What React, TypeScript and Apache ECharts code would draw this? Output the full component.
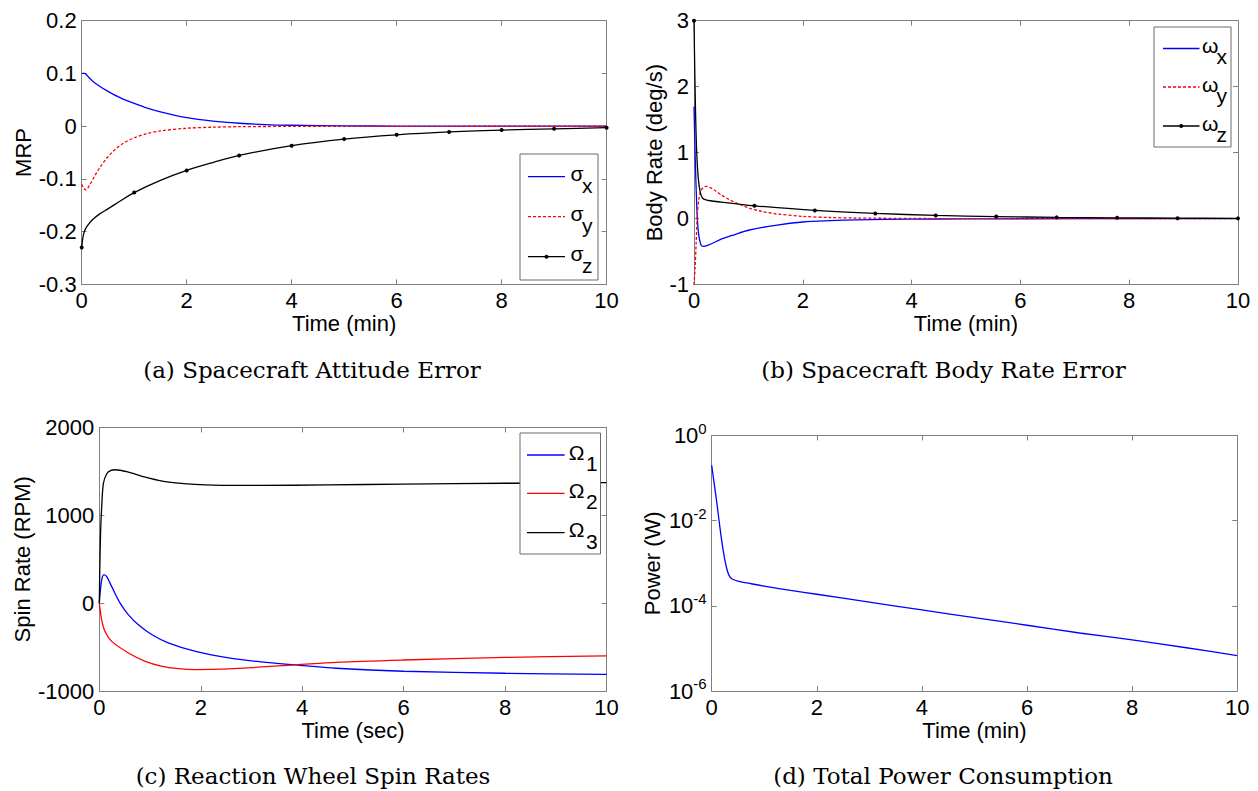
import React, { useEffect, useRef } from "react";
import * as echarts from "echarts";

// ---------- (a) Spacecraft Attitude Error : MRP vs time (min)
const sigmaXTime = [0, 0.05, 0.15, 0.25, 0.5, 0.75, 1, 1.25, 1.5, 2, 2.5, 3, 3.5, 4, 5, 6, 8, 10];
const sigmaX = [0.1, 0.1, 0.091, 0.082, 0.066, 0.053, 0.043, 0.034, 0.027, 0.016, 0.0095, 0.0055, 0.003, 0.0017, 0.0005, 0.0002, 0, 0];
const sigmaYTime = [0, 0.04, 0.08, 0.15, 0.25, 0.35, 0.5, 0.65, 0.8, 1, 1.25, 1.5, 2, 2.5, 3, 4, 6, 10];
const sigmaY = [-0.11, -0.118, -0.121, -0.112, -0.094, -0.078, -0.058, -0.043, -0.032, -0.022, -0.014, -0.009, -0.004, -0.002, -0.001, -0.0005, -0.0003, -0.0002];
const sigmaZTime = [0, 0.02, 0.05, 0.1, 0.2, 0.35, 0.5, 0.75, 1, 1.5, 2, 2.5, 3, 4, 5, 6, 7, 8, 9, 10];
const sigmaZ = [-0.23, -0.213, -0.2, -0.19, -0.178, -0.166, -0.157, -0.141, -0.126, -0.103, -0.084, -0.069, -0.0555, -0.037, -0.0245, -0.0165, -0.011, -0.0075, -0.005, -0.003];
const sigmaZMarkers = [0, 1, 2, 3, 4, 5, 6, 7, 8, 9, 10];

// ---------- (b) Spacecraft Body Rate Error : deg/s vs time (min)
const omegaXTime = [0, 0.02, 0.05, 0.08, 0.12, 0.16, 0.25, 0.5, 0.75, 1, 1.5, 2, 2.5, 3, 4, 5, 6, 8, 10];
const omegaX = [1.7, 1.0, 0.2, -0.2, -0.38, -0.42, -0.405, -0.31, -0.24, -0.175, -0.1, -0.05, -0.03, -0.018, -0.007, -0.003, -0.001, 0, 0];
const omegaYTime = [0, 0.02, 0.04, 0.06, 0.09, 0.13, 0.18, 0.23, 0.3, 0.4, 0.5, 0.65, 0.8, 1, 1.25, 1.5, 2, 2.5, 3, 4, 5, 10];
const omegaY = [-1.0, -0.75, -0.35, 0.05, 0.3, 0.43, 0.48, 0.49, 0.47, 0.42, 0.36, 0.29, 0.23, 0.165, 0.11, 0.075, 0.035, 0.018, 0.01, 0.004, 0.001, 0];
const omegaZTime = [0, 0.015, 0.03, 0.05, 0.08, 0.12, 0.16, 0.22, 0.3, 0.5, 0.75, 1.111, 2.222, 3.333, 4.444, 5.556, 6.667, 7.778, 8.889, 10];
const omegaZ = [3.0, 2.2, 1.55, 1.0, 0.6, 0.38, 0.31, 0.285, 0.272, 0.252, 0.228, 0.195, 0.125, 0.08, 0.05, 0.032, 0.02, 0.013, 0.008, 0.005];
const omegaZMarkers = [0, 1.111, 2.222, 3.333, 4.444, 5.556, 6.667, 7.778, 8.889, 10];

// ---------- (c) Reaction Wheel Spin Rates : RPM vs time (sec)
const wheel1Time = [0, 0.047, 0.093, 0.146, 0.245, 0.41, 0.575, 0.77, 1.04, 1.37, 1.9, 2.55, 3.2, 3.87, 4.67, 6, 8, 10];
const wheel1 = [0, 264, 321, 302, 188, 0, -133, -246, -359, -454, -549, -624, -669, -703, -741, -775, -798, -810];
const wheel2Time = [0, 0.047, 0.113, 0.245, 0.575, 0.905, 1.24, 1.56, 1.89, 2.55, 3.2, 3.87, 4.67, 6, 8, 10];
const wheel2 = [0, -189, -322, -435, -567, -662, -719, -745, -756, -748, -726, -703, -673, -647, -617, -601];
const wheel3Time = [0, 0.01, 0.025, 0.047, 0.08, 0.146, 0.22, 0.31, 0.575, 0.905, 1.24, 1.56, 1.89, 2.55, 3.2, 4.5, 6, 8, 10];
const wheel3 = [0, 400, 800, 1095, 1360, 1474, 1510, 1519, 1492, 1435, 1390, 1367, 1353, 1341, 1340, 1347, 1355, 1365, 1372];

// ---------- (d) Total Power Consumption : W (log) vs time (min)
const powerTime = [0, 0.05, 0.1, 0.15, 0.2, 0.25, 0.3, 0.35, 0.4, 0.5, 0.75, 1, 1.5, 2, 3, 4, 5, 6, 7, 8, 9, 10];
const power = [0.2, 0.07, 0.025, 0.008, 0.0028, 0.0012, 0.00065, 0.00047, 0.00042, 0.00038, 0.00033, 0.00029, 0.00023, 0.000187, 0.000122, 0.00008, 0.000053, 0.000035, 0.000023, 0.0000159, 0.0000105, 0.0000068];

// ---------- labels
const captions = [
  "(a) Spacecraft Attitude Error",
  "(b) Spacecraft Body Rate Error",
  "(c) Reaction Wheel Spin Rates",
  "(d) Total Power Consumption",
];
const xNames = ["Time (min)", "Time (min)", "Time (sec)", "Time (min)"];
const yNames = ["MRP", "Body Rate (deg/s)", "Spin Rate (RPM)", "Power (W)"];
const legendA = [["σ", "x"], ["σ", "y"], ["σ", "z"]];
const legendB = [["ω", "x"], ["ω", "y"], ["ω", "z"]];
const legendC = [["Ω", "1"], ["Ω", "2"], ["Ω", "3"]];

const SANS = "Liberation Sans";
const SERIF = "DejaVu Serif";
const GRAY = "#808080";
const BLUE = "#0000ff";
const RED = "#ff0000";
const BLACK = "#000000";

const pairs = (t: number[], v: number[]) => t.map((x, i) => [x, v[i]]);
const plain = (v: number) => String(Math.round(v * 1000) / 1000);

const grids = [
  { left: 81.7, top: 20.7, width: 524.9, height: 263.6 },
  { left: 694, top: 20.7, width: 544, height: 264 },
  { left: 99.3, top: 427.5, width: 507.3, height: 263.5 },
  { left: 711.7, top: 435.5, width: 525.5, height: 255.5 },
];

const axisLine = { show: true, onZero: false, lineStyle: { color: GRAY, width: 1 } };
const axisTick = { show: true, inside: true, length: 5, lineStyle: { color: GRAY, width: 1 } };
const labelStyle = { color: "#000", fontSize: 22, fontFamily: SANS };
const nameStyle = { color: "#000", fontSize: 22, fontFamily: SANS };

function makeX(g: number) {
  const common: any = {
    type: "value", gridIndex: g, min: 0, max: 10, interval: 2,
    splitLine: { show: false }, axisLine, axisTick,
  };
  return [
    {
      ...common, position: "bottom", name: xNames[g], nameLocation: "middle", nameGap: 28,
      nameTextStyle: nameStyle, axisLabel: { ...labelStyle, margin: 5, formatter: plain },
    },
    { ...common, position: "top", axisLabel: { show: false } },
  ];
}

function makeY(g: number, spec: any, nameGap: number, formatter?: any, rich?: any) {
  const common: any = { gridIndex: g, splitLine: { show: false }, axisLine, axisTick, ...spec };
  return [
    {
      ...common, position: "left", name: yNames[g], nameLocation: "middle", nameGap,
      nameTextStyle: nameStyle,
      axisLabel: { ...labelStyle, margin: 5, formatter: formatter || plain, ...(rich ? { rich } : {}) },
    },
    { ...common, position: "right", axisLabel: { show: false } },
  ];
}

function lineSeries(g: number, name: string, t: number[], v: number[], color: string, dashed = false, markers?: number[]) {
  return {
    type: "line", name, xAxisIndex: 2 * g, yAxisIndex: 2 * g, data: pairs(t, v),
    smooth: 0.3, clip: false, showAllSymbol: true,
    symbol: markers ? (val: number[]) => (markers.indexOf(val[0]) >= 0 ? "circle" : "none") : "none",
    symbolSize: 4,
    itemStyle: { color },
    lineStyle: { color, width: 1.3, type: dashed ? [3, 2] : "solid" },
    emphasis: { disabled: true },
  };
}

function legend(box: number[], lineX: number[], textX: number[], ys: number[], items: string[][], colors: string[], dashes: boolean[], markers: boolean[]) {
  const els: any[] = [
    { type: "rect", z: 100, shape: { x: box[0], y: box[1], width: box[2], height: box[3] }, style: { fill: "#fff", stroke: "#6a6a6a", lineWidth: 1 } },
  ];
  items.forEach((it, i) => {
    const y = ys[i];
    els.push({ type: "line", z: 101, shape: { x1: lineX[0], y1: y, x2: lineX[1], y2: y }, style: { stroke: colors[i], lineWidth: 1.3, lineDash: dashes[i] ? [3, 2] : null } });
    if (markers[i]) els.push({ type: "circle", z: 102, shape: { cx: (lineX[0] + lineX[1]) / 2, cy: y, r: 2 }, style: { fill: colors[i] } });
    els.push({ type: "text", z: 102, x: textX[0], y: y - 3, style: { text: it[0], fontSize: 21, fontFamily: SANS, fill: "#000", align: "left", verticalAlign: "middle" } });
    els.push({ type: "text", z: 102, x: textX[1], y: y + 8.3, style: { text: it[1], fontSize: 21, fontFamily: SANS, fill: "#000", align: "left", verticalAlign: "middle" } });
  });
  return els;
}

function caption(text: string, x: number, y: number) {
  return { type: "text", z: 100, x, y, style: { text, fontSize: 23, fontFamily: SERIF, fill: "#000", align: "center", verticalAlign: "middle" } };
}

export default function App() {
  const ref = useRef<HTMLDivElement>(null);
  useEffect(() => {
    if (!ref.current) return;
    const chart = echarts.init(ref.current, null, { renderer: "svg" });
    const powFmt = (v: number) => "{b|10}{s|" + Math.round(Math.log10(v)) + "}";
    const powRich = {
      b: { fontSize: 22, fontFamily: SANS, color: "#000", lineHeight: 30 },
      s: { fontSize: 15, fontFamily: SANS, color: "#000", lineHeight: 14, verticalAlign: "top" },
    };
    const option: any = {
      animation: false,
      textStyle: { fontFamily: SANS },
      grid: grids.map((g) => ({ ...g, containLabel: false, outerBoundsMode: "none", show: false })),
      xAxis: [...makeX(0), ...makeX(1), ...makeX(2), ...makeX(3)],
      yAxis: [
        ...makeY(0, { type: "value", min: -0.3, max: 0.2, interval: 0.1 }, 47),
        ...makeY(1, { type: "value", min: -1, max: 3, interval: 1 }, 27),
        ...makeY(2, { type: "value", min: -1000, max: 2000, interval: 1000 }, 66),
        ...makeY(3, { type: "log", logBase: 10, min: 1e-6, max: 1, interval: 2 }, 48, powFmt, powRich),
      ],
      series: [
        lineSeries(0, "σx", sigmaXTime, sigmaX, BLUE),
        lineSeries(0, "σy", sigmaYTime, sigmaY, RED, true),
        lineSeries(0, "σz", sigmaZTime, sigmaZ, BLACK, false, sigmaZMarkers),
        lineSeries(1, "ωx", omegaXTime, omegaX, BLUE),
        lineSeries(1, "ωy", omegaYTime, omegaY, RED, true),
        lineSeries(1, "ωz", omegaZTime, omegaZ, BLACK, false, omegaZMarkers),
        lineSeries(2, "Ω1", wheel1Time, wheel1, BLUE),
        lineSeries(2, "Ω2", wheel2Time, wheel2, RED),
        lineSeries(2, "Ω3", wheel3Time, wheel3, BLACK),
        lineSeries(3, "Power", powerTime, power, BLUE),
      ],
      graphic: [
        ...legend([520, 154, 78, 126], [528, 565], [570.5, 582], [176.7, 216.7, 256.7], legendA, [BLUE, RED, BLACK], [false, true, false], [false, false, true]),
        ...legend([1154, 27, 77, 120], [1163, 1199.5], [1202, 1216.5], [48.5, 87, 126], legendB, [BLUE, RED, BLACK], [false, true, false], [false, false, true]),
        ...legend([520, 433, 80.5, 121], [527, 564.6], [568.7, 586], [455, 493.3, 532.7], legendC, [BLUE, RED, BLACK], [false, false, false], [false, false, false]),
        caption(captions[0], 312, 370),
        caption(captions[1], 943.5, 370),
        caption(captions[2], 313, 776),
        caption(captions[3], 943, 776),
      ],
    };
    chart.setOption(option);
    return () => chart.dispose();
  }, []);
  return <div ref={ref} style={{ position: "fixed", left: 0, top: 0, width: 1258, height: 791, background: "#fff" }} />;
}
